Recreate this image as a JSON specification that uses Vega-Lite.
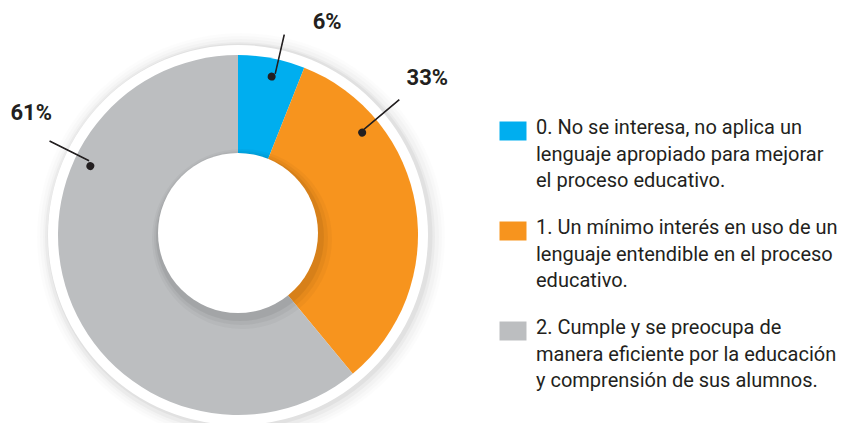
{
  "$schema": "https://vega.github.io/schema/vega-lite/v6.json",
  "width": 476,
  "height": 376,
  "autosize": {"type": "none"},
  "padding": {"left": 0, "top": 47, "right": 367, "bottom": 0},
  "background": "white",
  "config": {"view": {"stroke": null}, "style": {"guide-label": {"lineHeight": 26.5}}},
  "data": {"values": [
    {"categoria": "0. No se interesa, no aplica un\nlenguaje apropiado para mejorar\nel proceso educativo.", "valor": 6, "etiqueta": "6%"},
    {"categoria": "1. Un mínimo interés en uso de un\nlenguaje entendible en el proceso\neducativo.", "valor": 33, "etiqueta": "33%"},
    {"categoria": "2. Cumple y se preocupa de\nmanera eficiente por la educación\ny comprensión de sus alumnos.", "valor": 61, "etiqueta": "61%"}
  ]},
  "layer": [
    {
      "transform": [{"aggregate": [{"op": "sum", "field": "valor", "as": "total"}]}],
      "mark": {"type": "arc", "radius": 204, "fill": "#000000", "opacity": 0.012, "xOffset": 3, "yOffset": 2},
      "encoding": {"theta": {"field": "total", "type": "quantitative"}}
    },
    {
      "transform": [{"aggregate": [{"op": "sum", "field": "valor", "as": "total"}]}],
      "mark": {"type": "arc", "radius": 201, "fill": "#000000", "opacity": 0.015, "xOffset": 3, "yOffset": 2},
      "encoding": {"theta": {"field": "total", "type": "quantitative"}}
    },
    {
      "transform": [{"aggregate": [{"op": "sum", "field": "valor", "as": "total"}]}],
      "mark": {"type": "arc", "radius": 198, "fill": "#000000", "opacity": 0.02, "xOffset": 3, "yOffset": 2},
      "encoding": {"theta": {"field": "total", "type": "quantitative"}}
    },
    {
      "transform": [{"aggregate": [{"op": "sum", "field": "valor", "as": "total"}]}],
      "mark": {"type": "arc", "radius": 195, "fill": "#000000", "opacity": 0.03, "xOffset": 2, "yOffset": 2},
      "encoding": {"theta": {"field": "total", "type": "quantitative"}}
    },
    {
      "transform": [{"aggregate": [{"op": "sum", "field": "valor", "as": "total"}]}],
      "mark": {"type": "arc", "radius": 192.5, "fill": "#000000", "opacity": 0.04, "xOffset": 2, "yOffset": 1},
      "encoding": {"theta": {"field": "total", "type": "quantitative"}}
    },
    {
      "transform": [{"aggregate": [{"op": "sum", "field": "valor", "as": "total"}]}],
      "mark": {"type": "arc", "radius": 190, "fill": "#ffffff"},
      "encoding": {"theta": {"field": "total", "type": "quantitative"}}
    },
    {
      "mark": {"type": "arc", "radius": 180},
      "encoding": {
        "theta": {"field": "valor", "type": "quantitative", "stack": true},
        "color": {
          "field": "categoria",
          "type": "nominal",
          "sort": "ascending",
          "scale": {"range": ["#00AEEF", "#F7941E", "#BCBEC0"]},
          "legend": {
            "orient": "none",
            "legendX": 503,
            "legendY": 61,
            "title": null,
            "padding": 0,
            "labelExpr": "split(datum.label, '\\n')",
            "labelLimit": 600,
            "labelFont": "Roboto",
            "labelFontSize": 20,
            "labelColor": "#231F20",
            "labelOffset": 13,
            "labelBaseline": "top",
            "symbolType": "M-1.35,0.35H1.35V2.25H-1.35Z",
            "symbolSize": 400,
            "symbolStrokeWidth": 0,
            "symbolOpacity": 1,
            "rowPadding": 17
          }
        }
      }
    },
    {
      "transform": [{"aggregate": [{"op": "sum", "field": "valor", "as": "total"}]}],
      "mark": {"type": "arc", "radius": 90, "fill": "#000000", "opacity": 0.03, "xOffset": 4, "yOffset": 4},
      "encoding": {"theta": {"field": "total", "type": "quantitative"}}
    },
    {
      "transform": [{"aggregate": [{"op": "sum", "field": "valor", "as": "total"}]}],
      "mark": {"type": "arc", "radius": 87, "fill": "#000000", "opacity": 0.04, "xOffset": 3, "yOffset": 3},
      "encoding": {"theta": {"field": "total", "type": "quantitative"}}
    },
    {
      "transform": [{"aggregate": [{"op": "sum", "field": "valor", "as": "total"}]}],
      "mark": {"type": "arc", "radius": 84, "fill": "#000000", "opacity": 0.06, "xOffset": 2, "yOffset": 2},
      "encoding": {"theta": {"field": "total", "type": "quantitative"}}
    },
    {
      "transform": [{"aggregate": [{"op": "sum", "field": "valor", "as": "total"}]}],
      "mark": {"type": "arc", "radius": 80, "fill": "#ffffff", "yOffset": -2},
      "encoding": {"theta": {"field": "total", "type": "quantitative"}}
    },
    {
      "transform": [
        {"stack": "valor", "groupby": [], "sort": [{"field": "categoria", "order": "ascending"}], "as": ["inicio", "fin"]},
        {"filter": "datum.etiqueta == '6%'"}
      ],
      "mark": {"type": "arc", "radius": 205, "radius2": 166, "thetaOffset": 0.2259, "theta2Offset": 0.2279, "fill": "#231F20", "stroke": "#231F20", "strokeWidth": 1.2},
      "encoding": {"theta": {"field": "inicio", "type": "quantitative", "stack": null}, "theta2": {"field": "inicio"}}
    },
    {
      "transform": [
        {"stack": "valor", "groupby": [], "sort": [{"field": "categoria", "order": "ascending"}], "as": ["inicio", "fin"]},
        {"filter": "datum.etiqueta == '33%'"}
      ],
      "mark": {"type": "arc", "radius": 210, "radius2": 165, "thetaOffset": 0.4947, "theta2Offset": 0.4967, "fill": "#231F20", "stroke": "#231F20", "strokeWidth": 1.2},
      "encoding": {"theta": {"field": "inicio", "type": "quantitative", "stack": null}, "theta2": {"field": "inicio"}}
    },
    {
      "transform": [
        {"stack": "valor", "groupby": [], "sort": [{"field": "categoria", "order": "ascending"}], "as": ["inicio", "fin"]},
        {"filter": "datum.etiqueta == '61%'"}
      ],
      "mark": {"type": "arc", "radius": 210, "radius2": 167, "thetaOffset": 2.7235, "theta2Offset": 2.7255, "fill": "#231F20", "stroke": "#231F20", "strokeWidth": 1.2},
      "encoding": {"theta": {"field": "inicio", "type": "quantitative", "stack": null}, "theta2": {"field": "inicio"}}
    },
    {
      "transform": [
        {"stack": "valor", "groupby": [], "sort": [{"field": "categoria", "order": "ascending"}], "as": ["inicio", "fin"]},
        {"filter": "datum.etiqueta == '6%'"}
      ],
      "mark": {"type": "arc", "radius": 166, "radius2": 158, "cornerRadius": 4, "thetaOffset": 0.1847, "theta2Offset": 0.2341, "fill": "#231F20"},
      "encoding": {"theta": {"field": "inicio", "type": "quantitative", "stack": null}, "theta2": {"field": "inicio"}}
    },
    {
      "transform": [
        {"stack": "valor", "groupby": [], "sort": [{"field": "categoria", "order": "ascending"}], "as": ["inicio", "fin"]},
        {"filter": "datum.etiqueta == '33%'"}
      ],
      "mark": {"type": "arc", "radius": 165, "radius2": 157, "cornerRadius": 4, "thetaOffset": 0.4797, "theta2Offset": 0.5291, "fill": "#231F20"},
      "encoding": {"theta": {"field": "inicio", "type": "quantitative", "stack": null}, "theta2": {"field": "inicio"}}
    },
    {
      "transform": [
        {"stack": "valor", "groupby": [], "sort": [{"field": "categoria", "order": "ascending"}], "as": ["inicio", "fin"]},
        {"filter": "datum.etiqueta == '61%'"}
      ],
      "mark": {"type": "arc", "radius": 167, "radius2": 159, "cornerRadius": 4, "thetaOffset": 2.6736, "theta2Offset": 2.7230, "fill": "#231F20"},
      "encoding": {"theta": {"field": "inicio", "type": "quantitative", "stack": null}, "theta2": {"field": "inicio"}}
    },
    {
      "transform": [
        {"stack": "valor", "groupby": [], "sort": [{"field": "categoria", "order": "ascending"}], "as": ["inicio", "fin"]},
        {"filter": "datum.etiqueta == '6%'"}
      ],
      "mark": {"type": "text", "radius": 231, "thetaOffset": 0.3962, "font": "Roboto", "fontWeight": "bold", "fontSize": 22, "color": "#231F20", "align": "center", "baseline": "middle"},
      "encoding": {"theta": {"field": "inicio", "type": "quantitative", "stack": null}, "text": {"field": "etiqueta"}}
    },
    {
      "transform": [
        {"stack": "valor", "groupby": [], "sort": [{"field": "categoria", "order": "ascending"}], "as": ["inicio", "fin"]},
        {"filter": "datum.etiqueta == '33%'"}
      ],
      "mark": {"type": "text", "radius": 246, "thetaOffset": 0.5009, "font": "Roboto", "fontWeight": "bold", "fontSize": 22, "color": "#231F20", "align": "center", "baseline": "middle"},
      "encoding": {"theta": {"field": "inicio", "type": "quantitative", "stack": null}, "text": {"field": "etiqueta"}}
    },
    {
      "transform": [
        {"stack": "valor", "groupby": [], "sort": [{"field": "categoria", "order": "ascending"}], "as": ["inicio", "fin"]},
        {"filter": "datum.etiqueta == '61%'"}
      ],
      "mark": {"type": "text", "radius": 240, "thetaOffset": 2.7943, "font": "Roboto", "fontWeight": "bold", "fontSize": 22, "color": "#231F20", "align": "center", "baseline": "middle"},
      "encoding": {"theta": {"field": "inicio", "type": "quantitative", "stack": null}, "text": {"field": "etiqueta"}}
    }
  ]
}
